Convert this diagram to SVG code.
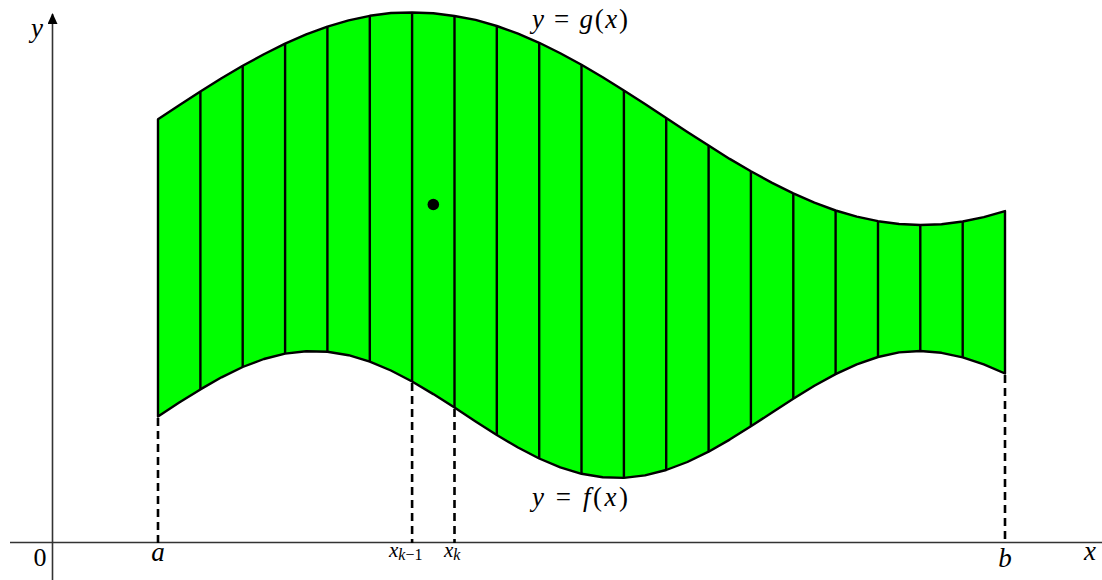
<svg xmlns="http://www.w3.org/2000/svg" width="1102" height="580" viewBox="0 0 1102 580">
<style>
.axis{stroke:#333;stroke-width:1.6;fill:none}
.region{fill:#00ff00;stroke:#000;stroke-width:2.4;stroke-linejoin:round}
.strip{stroke:#000;stroke-width:2.4}
.dash{stroke:#000;stroke-width:2.6;stroke-dasharray:8,5;fill:none}
.lbl{font-family:"Liberation Serif","DejaVu Serif",serif;font-style:italic;font-size:27px;fill:#000}
.num{font-family:"Liberation Serif","DejaVu Serif",serif;font-size:26px;fill:#000}
.sm{font-family:"Liberation Serif","DejaVu Serif",serif;font-style:italic;font-size:21px;fill:#000}
</style>
<defs>
<marker id="arr" markerWidth="12" markerHeight="12" refX="10" refY="5" orient="auto" markerUnits="userSpaceOnUse">
<path d="M0,0 L11,5 L0,10 Z" fill="#000"/>
</marker>
</defs>
<g id="axes">
<line class="axis" x1="10" y1="542.5" x2="1102" y2="542.5"/>
<line class="axis" x1="52.5" y1="580" x2="52.5" y2="14" marker-end="url(#arr)"/>
</g>
<g id="region">
<path class="region" d="M158,119.2 L179.2,105.3 200.4,91.6 221.5,78.3 242.7,65.8 263.9,54.2 285.1,43.6 306.2,34.4 327.4,26.6 348.6,20.3 369.8,15.8 390.9,13.0 412.1,12.5 433.3,13.3 454.5,16.0 475.6,19.9 496.8,26.0 518.0,33.7 539.2,42.8 560.3,53.3 581.5,64.8 602.7,77.2 623.9,90.4 645.0,104.1 666.2,118.0 687.4,131.9 708.6,145.6 729.7,158.9 750.9,171.3 772.1,182.9 793.3,193.4 814.4,202.7 835.6,210.5 856.8,216.7 878.0,221.2 899.1,224.0 920.3,225.0 941.5,224.2 962.7,221.5 983.8,217.1 1005,211.1 L1005,373.5 983.8,364.4 962.7,357.3 941.5,352.8 920.3,351.0 899.1,352.4 878.0,357.0 856.8,364.4 835.6,374.1 814.4,385.8 793.3,398.8 772.1,412.5 750.9,426.3 729.7,439.6 708.6,451.7 687.4,462.0 666.2,470.0 645.0,475.4 623.9,477.9 602.7,477.3 581.5,473.8 560.3,467.4 539.2,458.5 518.0,447.5 496.8,435.0 475.6,421.5 454.5,407.6 433.3,394.1 412.1,381.5 390.9,370.5 369.8,361.6 348.6,355.2 327.4,351.7 306.2,351.2 285.1,353.6 263.9,359.0 242.7,367.0 221.5,377.3 200.4,389.4 179.2,402.6 158,416.5 Z"/>
</g>
<g id="strips">
<line class="strip" x1="200.4" y1="91.6" x2="200.4" y2="389.4"/>
<line class="strip" x1="242.7" y1="65.8" x2="242.7" y2="367.0"/>
<line class="strip" x1="285.1" y1="43.6" x2="285.1" y2="353.6"/>
<line class="strip" x1="327.4" y1="26.6" x2="327.4" y2="351.7"/>
<line class="strip" x1="369.8" y1="15.8" x2="369.8" y2="361.6"/>
<line class="strip" x1="412.1" y1="12.5" x2="412.1" y2="381.5"/>
<line class="strip" x1="454.5" y1="16.0" x2="454.5" y2="407.6"/>
<line class="strip" x1="496.8" y1="26.0" x2="496.8" y2="435.0"/>
<line class="strip" x1="539.2" y1="42.8" x2="539.2" y2="458.5"/>
<line class="strip" x1="581.5" y1="64.8" x2="581.5" y2="473.8"/>
<line class="strip" x1="623.9" y1="90.4" x2="623.9" y2="477.9"/>
<line class="strip" x1="666.2" y1="118.0" x2="666.2" y2="470.0"/>
<line class="strip" x1="708.6" y1="145.6" x2="708.6" y2="451.7"/>
<line class="strip" x1="750.9" y1="171.3" x2="750.9" y2="426.3"/>
<line class="strip" x1="793.3" y1="193.4" x2="793.3" y2="398.8"/>
<line class="strip" x1="835.6" y1="210.5" x2="835.6" y2="374.1"/>
<line class="strip" x1="878.0" y1="221.2" x2="878.0" y2="357.0"/>
<line class="strip" x1="920.3" y1="225.0" x2="920.3" y2="351.0"/>
<line class="strip" x1="962.7" y1="221.5" x2="962.7" y2="357.3"/>
</g>
<g id="connectors">
<line class="dash" x1="158" y1="418" x2="158" y2="543"/>
<line class="dash" x1="412.1" y1="383" x2="412.1" y2="543"/>
<line class="dash" x1="454.5" y1="409" x2="454.5" y2="543"/>
<line class="dash" x1="1005" y1="375" x2="1005" y2="543"/>
</g>
<g id="point">
<circle cx="433.3" cy="204.5" r="5.8" fill="#000"/>
</g>
<g id="labels">
<text class="lbl" x="31" y="37">y</text>
<text class="lbl" x="532" y="28" textLength="96" lengthAdjust="spacing">y <tspan font-style="normal">=</tspan> g<tspan font-style="normal">(</tspan>x<tspan font-style="normal">)</tspan></text>
<text class="lbl" x="532" y="506" textLength="96" lengthAdjust="spacing">y <tspan font-style="normal">=</tspan> f<tspan font-style="normal">(</tspan>x<tspan font-style="normal">)</tspan></text>
<text class="num" x="40" y="566" text-anchor="middle">0</text>
<text class="lbl" x="158" y="561" text-anchor="middle">a</text>
<text class="lbl" x="1005" y="567" text-anchor="middle">b</text>
<text class="lbl" x="1090" y="560" text-anchor="middle">x</text>
<text class="sm" x="389" y="557">x<tspan font-size="16" dy="3">k</tspan><tspan font-size="16" font-style="normal">−1</tspan></text>
<text class="sm" x="444" y="557">x<tspan font-size="16" dy="3">k</tspan></text>
</g>
</svg>
